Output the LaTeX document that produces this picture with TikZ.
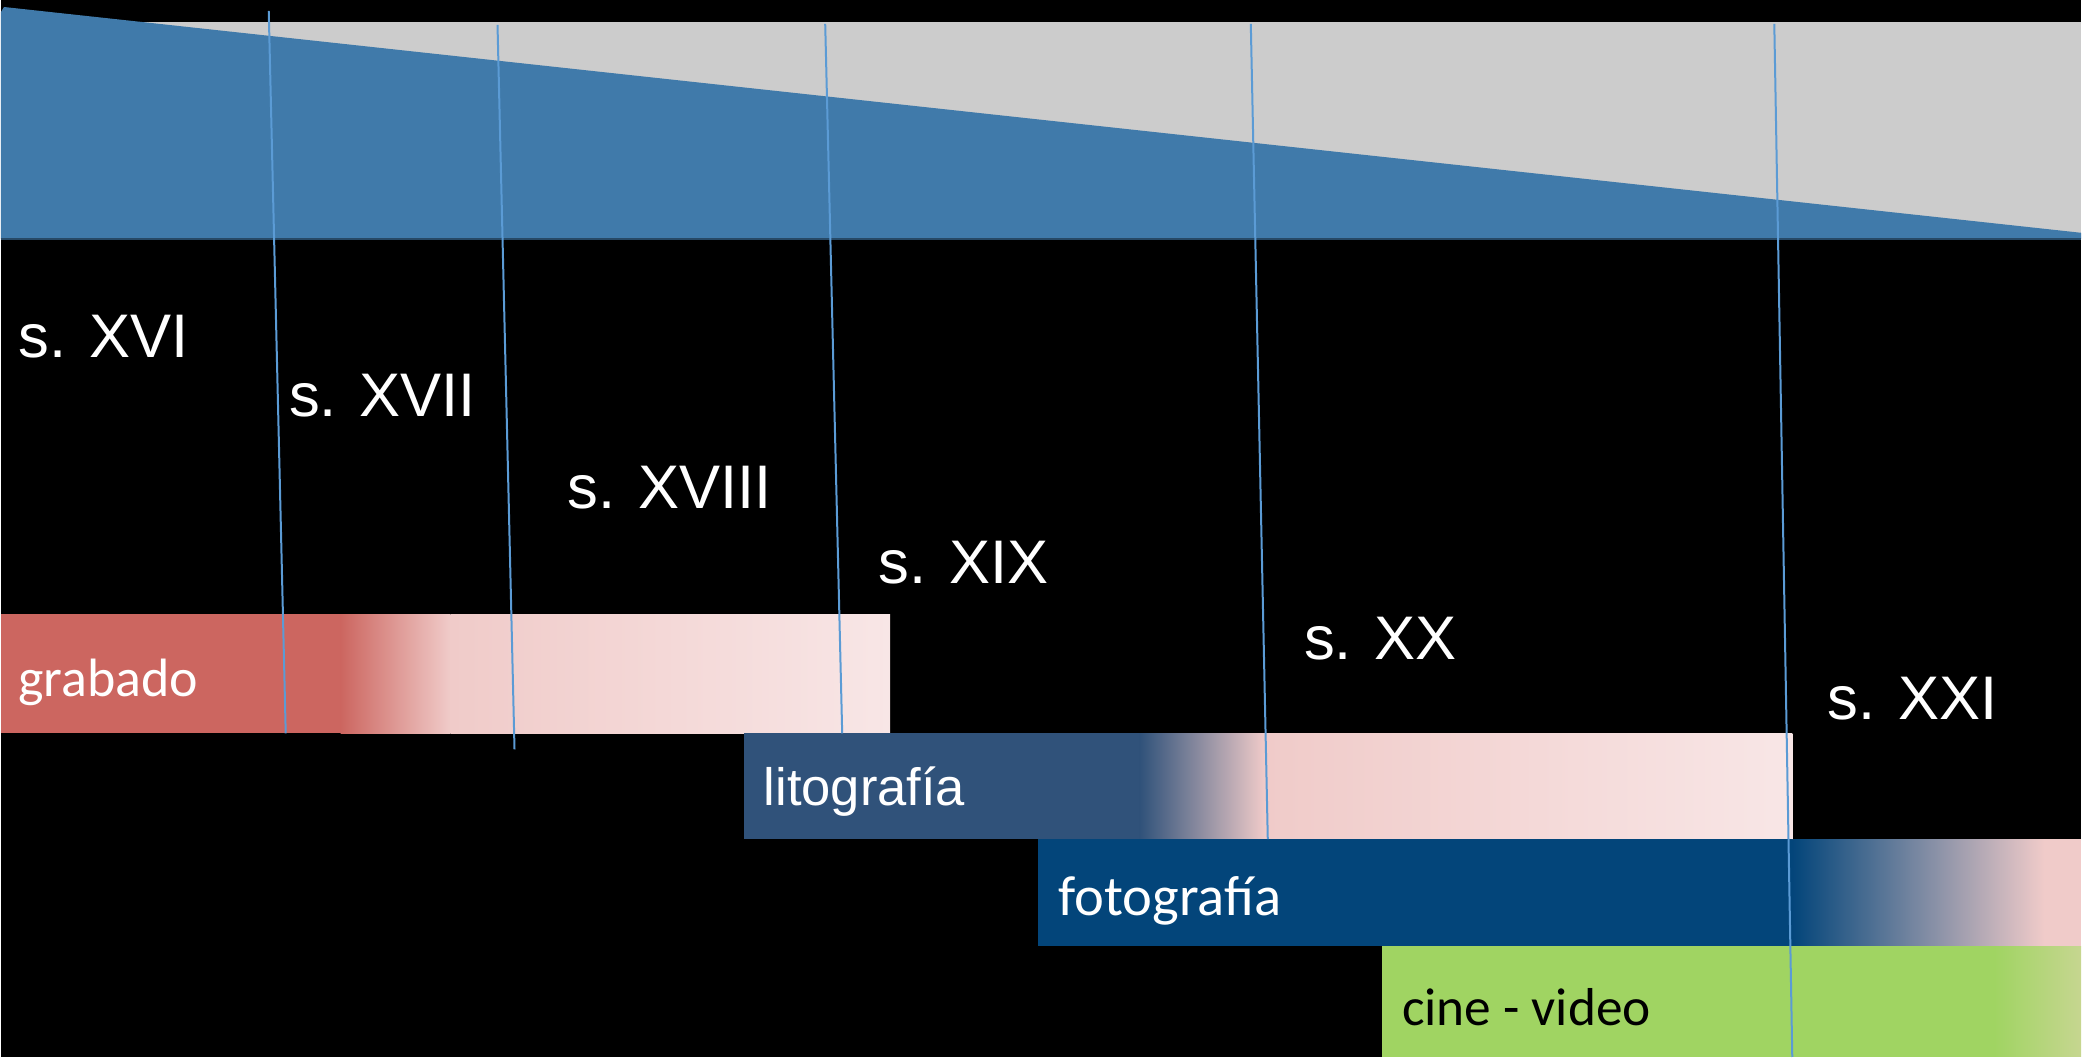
\documentclass[tikz,border=0pt]{standalone}
\usepackage{fontspec}
\setmainfont{Liberation Sans}
\newfontfamily\carlito{Carlito}
\definecolor{bandablue}{HTML}{407AAA}
\definecolor{bandagris}{HTML}{CCCCCC}
\definecolor{rojo}{HTML}{CC6660}
\definecolor{rosa}{HTML}{F0CBC9}
\definecolor{rosaclaro}{HTML}{F8E6E6}
\definecolor{pizarra}{HTML}{30527A}
\definecolor{azul}{HTML}{03457A}
\definecolor{verde}{HTML}{A0D462}
\definecolor{verdeclaro}{HTML}{C6D690}
\definecolor{corte}{HTML}{5B9BD5}
\begin{document}
\begin{tikzpicture}[x=0.5pt,y=-0.5pt,
    siglo/.style={text=white,anchor=base west,inner sep=0pt,font=\fontsize{30.8}{32}\selectfont},
    tecnica/.style={anchor=base west,inner sep=0pt},
    cortelinea/.style={corte,line width=1pt}]
    \fill[black] (0,0) rectangle (2082,1058);
    \fill[bandagris] (0,22) rectangle (2082,239);
    \fill[bandablue] (0,239) -- (0,12) -- (3,7) -- (2082,233) -- (2082,239) -- cycle;
    \draw[bandablue!60!black,line width=1pt] (0,239) -- (2082,239);

    \fill[rojo] (0,615) rectangle (340,734);
    \shade[left color=rojo,right color=rosa] (340,615) rectangle (450,734);
    \shade[left color=rosa,right color=rosaclaro] (450,615) rectangle (890,734);

    \fill[pizarra] (744,734) rectangle (1140,840);
    \shade[left color=pizarra,right color=rosa] (1140,734) rectangle (1265,840);
    \shade[left color=rosa,right color=rosaclaro] (1265,734) rectangle (1793,840);

    \fill[azul] (1038,840) rectangle (1793,947);
    \shade[left color=azul,right color=rosa] (1793,840) rectangle (2045,947);
    \fill[rosa] (2045,840) rectangle (2082,947);

    \fill[verde] (1382,947) rectangle (1995,1058);
    \shade[left color=verde,right color=verdeclaro] (1995,947) rectangle (2082,1058);

    \draw[cortelinea] (268,11) -- (285,734);
    \draw[cortelinea] (497,25) -- (514,750);
    \draw[cortelinea] (825,24) -- (842,734);
    \draw[cortelinea] (1251,24) -- (1268,840);
    \draw[cortelinea] (1775,24) -- (1793,1058);

    \node[siglo] (s16) at (17,358) {s. XVI};
    \node[siglo] (s17) at (288,417) {s. XVII};
    \node[siglo] (s18) at (567,509) {s. XVIII};
    \node[siglo] (s19) at (878,584) {s. XIX};
    \node[siglo] (s20) at (1304,660) {s. XX};
    \node[siglo] (s21) at (1828,720) {s. XXI};

    \node[tecnica,text=white,font=\carlito\fontsize{27}{28}\selectfont] (grabado) at (17,697) {grabado};
    \node[tecnica,text=white,font=\fontsize{26.3}{27}\selectfont] (lito) at (763,806) {litografía};
    \node[tecnica,text=white,font=\carlito\fontsize{28.3}{29}\selectfont] (foto) at (1058,916) {fotografía};
    \node[tecnica,text=black,font=\carlito\fontsize{26.7}{27}\selectfont] (cine) at (1402,1026) {cine - video};
\end{tikzpicture}
\end{document}
